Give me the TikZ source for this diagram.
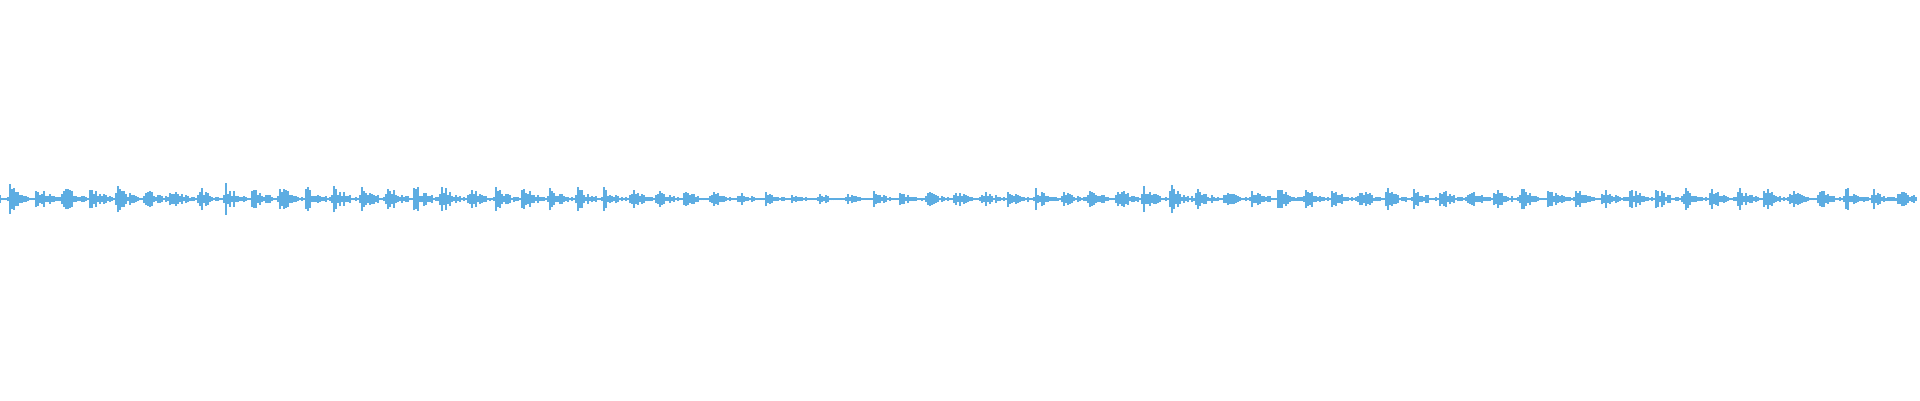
\documentclass[tikz,border=0pt]{standalone}
\usepackage{tikz}
\definecolor{wave}{RGB}{93,173,226}
\tikzset{bar/.style={draw=wave,line width=0.013cm}}
\def\midline{2.01}
\begin{document}
\begin{tikzpicture}
    \useasboundingbox (0,0) rectangle (19.2,4);
    \pgfmathsetseed{7}
    % waveform bars, bursts every 27px
    \foreach \i in {0,...,958}{
        \pgfmathsetmacro\x{\i*2}
        \pgfmathsetmacro\ph{mod(\x+20,27)}
        \pgfmathsetmacro\A{16-8*exp(-((\x-820)/220)^2)-3*(\x>1200)}
        \pgfmathsetmacro\h{max(1,\A*min(1,\ph/3)*exp(-(\ph-3)/12)*(0.3+0.7*rnd))}
        \draw[bar] (\x/100,\midline-\h/100) -- (\x/100,\midline+\h/100);
    }
\end{tikzpicture}
\end{document}
